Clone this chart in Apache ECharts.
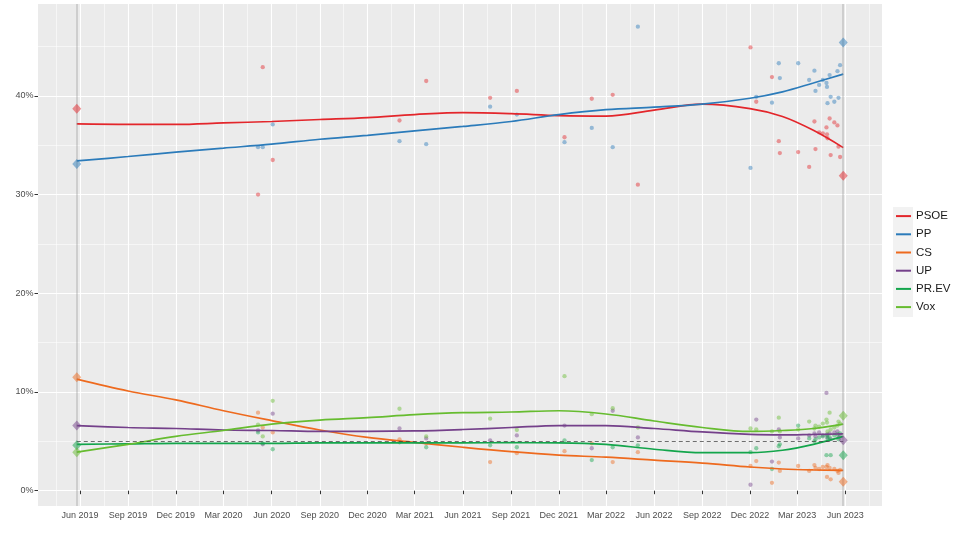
<!DOCTYPE html>
<html><head><meta charset="utf-8">
<script src="https://cdn.jsdelivr.net/npm/echarts@6/dist/echarts.min.js"></script>
<style>html,body{margin:0;padding:0;background:#fff}#c{width:960px;height:534px}</style>
</head><body><div id="c"></div>
<script>
const FONT = '"Liberation Sans", Arial, Helvetica, sans-serif';
const parties = ['PSOE','PP','CS','UP','PR.EV','Vox'];
const colors = ['#E3262B','#2B7BBA','#EE6A1E','#74408A','#13A54B','#66BC2F'];

const electionDates = ['2019-05-26','2023-05-28'];
const election2019 = [38.7, 33.1, 11.5, 6.6, 4.6, 3.9];
const election2023 = [31.9, 45.4, 0.9, 5.1, 3.6, 7.6];

const xTickDates = ['2019-06-01','2019-09-01','2019-12-01','2020-03-01','2020-06-01','2020-09-01','2020-12-01',
  '2021-03-01','2021-06-01','2021-09-01','2021-12-01','2022-03-01','2022-06-01','2022-09-01','2022-12-01',
  '2023-03-01','2023-06-01'];
const yTicks = [0, 10, 20, 30, 40];
const yMinorTicks = [5, 15, 25, 35, 45];
const threshold = 5;

const trendDates = ['2019-05-26','2019-09-01','2019-12-01','2020-03-01','2020-06-01','2020-09-01','2020-12-01',
  '2021-03-01','2021-06-01','2021-09-01','2021-12-01','2022-03-01','2022-06-01','2022-09-01','2022-12-01',
  '2023-02-01','2023-04-01','2023-05-28'];
const trendPSOE = [37.15,37.1,37.1,37.25,37.4,37.6,37.8,38.1,38.3,38.2,38.0,37.95,38.55,39.15,38.7,37.9,36.5,34.75];
const trendPP   = [33.4,33.85,34.3,34.7,35.1,35.6,36.0,36.45,36.9,37.4,38.1,38.6,38.85,39.15,39.75,40.4,41.3,42.2];
const trendCS   = [11.3,10.1,9.2,8.1,7.1,6.15,5.4,4.9,4.4,3.95,3.6,3.4,3.1,2.8,2.4,2.2,2.1,2.05];
const trendUP   = [6.6,6.4,6.3,6.15,6.1,6.0,6.0,6.05,6.2,6.4,6.6,6.6,6.3,5.95,5.7,5.65,5.7,5.75];
const trendPREV = [4.7,4.75,4.8,4.8,4.8,4.85,4.85,4.85,4.85,4.86,4.85,4.7,4.2,3.85,3.85,4.1,4.7,5.5];
const trendVox  = [3.9,4.7,5.5,6.1,6.75,7.15,7.4,7.7,7.9,7.97,8.1,7.77,7.06,6.4,6.0,6.1,6.3,6.75];

const pollDates = ['2020-05-06','2020-05-15','2020-06-03','2021-01-31','2021-03-23','2021-07-23','2021-09-12',
  '2021-12-12','2022-02-02','2022-03-14','2022-05-01','2022-12-02','2022-12-13','2023-01-12','2023-01-25',
  '2023-01-27','2023-03-03','2023-03-24','2023-04-03','2023-04-05','2023-04-12','2023-04-19','2023-04-26',
  '2023-04-27','2023-04-28','2023-05-02','2023-05-04','2023-05-11','2023-05-17','2023-05-19','2023-05-22'];
const pollPSOE = [30.0,42.9,33.5,37.5,41.5,39.8,40.5,35.8,39.7,40.1,31.0,44.9,39.4,41.9,35.4,34.2,34.3,32.8,37.4,34.6,36.3,36.2,36.8,36.1,35.7,37.7,34.0,37.3,37.0,34.85,33.8];
const pollPP   = [34.8,34.8,37.1,35.4,35.1,38.9,38.1,35.3,36.75,34.8,47.0,32.7,39.9,39.3,43.3,41.8,43.3,41.6,42.55,40.5,41.1,41.6,41.3,40.9,39.25,42.1,39.9,39.4,42.5,39.8,43.1];
const pollCS   = [7.9,6.4,5.9,5.2,4.8,2.9,3.8,4.0,4.8,2.9,3.9,2.5,3.0,0.8,2.85,2.0,2.5,2.0,2.6,2.3,2.2,2.4,2.4,1.4,2.6,2.3,1.15,2.2,2.0,1.8,2.1];
const pollUP   = [6.1,4.7,7.8,6.3,5.3,5.1,5.6,6.6,4.3,8.1,5.4,0.6,7.2,2.95,6.2,5.4,5.3,5.6,5.8,5.5,5.9,5.6,9.9,5.7,5.4,5.8,5.2,5.9,6.0,5.4,5.5];
const pollPREV = [5.9,4.8,4.2,4.9,4.4,4.6,4.4,5.1,3.1,4.4,4.6,3.9,4.3,2.2,4.5,4.7,6.6,5.3,5.0,5.2,5.4,5.5,3.6,5.6,5.3,5.4,3.6,5.6,5.7,5.2,5.8];
const pollVox  = [6.7,5.5,9.1,8.3,5.5,7.3,6.15,11.6,7.75,8.35,6.4,6.3,6.2,6.0,7.4,6.0,6.2,7.0,6.3,6.6,6.5,6.8,7.2,6.9,6.0,7.9,6.2,6.4,6.6,7.0,6.8];

const trends = [trendPSOE, trendPP, trendCS, trendUP, trendPREV, trendVox];
const polls = [pollPSOE, pollPP, pollCS, pollUP, pollPREV, pollVox];

function ts(s){ const p = s.split('-').map(Number); return Date.UTC(p[0], p[1]-1, p[2]); }
const MONTHS = ['Jan','Feb','Mar','Apr','May','Jun','Jul','Aug','Sep','Oct','Nov','Dec'];
const xTicks = xTickDates.map(ts);
const half = (xTicks[1] - xTicks[0]) / 2;
const xMinor = [xTicks[0] - half].concat(xTicks.map((t, i) => i < xTicks.length - 1 ? (t + xTicks[i+1]) / 2 : t + half));
const xMin = ts('2019-03-13'), xMax = ts('2023-08-10');
const yMin = -1.55, yMax = 49.3;

const series = [];
series.push({
  type: 'line', name: 'elections', data: [], silent: true, z: 1,
  markLine: { silent: true, symbol: 'none', label: {show: false},
    lineStyle: { color: 'rgba(140,140,140,0.3)', width: 2, type: 'solid' },
    data: electionDates.map(d => ({ xAxis: ts(d) })) }
});
parties.forEach((p, k) => {
  series.push({
    type: 'scatter', name: p + ' polls', z: 3,
    data: pollDates.map((d, i) => [ts(d), polls[k][i]]).filter(v => v[1] != null),
    symbolSize: 4.3, itemStyle: { color: colors[k], opacity: 0.45 }
  });
});
parties.forEach((p, k) => {
  series.push({
    type: 'line', name: p, z: 4, smooth: 0.35, showSymbol: false,
    data: trendDates.map((d, i) => [ts(d), trends[k][i]]),
    lineStyle: { color: colors[k], width: 1.7 }, itemStyle: { color: colors[k] }
  });
});
parties.forEach((p, k) => {
  series.push({
    type: 'scatter', name: p + ' result', z: 5, symbol: 'diamond', symbolSize: [9, 10],
    data: [[ts(electionDates[0]), election2019[k]], [ts(electionDates[1]), election2023[k]]],
    itemStyle: { color: colors[k], opacity: 0.5 }
  });
});
series.push({
  type: 'line', name: 'threshold', data: [], silent: true, z: 6,
  markLine: { silent: true, symbol: 'none', label: {show: false},
    lineStyle: { color: '#333333', width: 0.7, type: [4, 3] },
    data: [[{ coord: [ts(electionDates[0]), threshold] }, { coord: [ts(electionDates[1]), threshold] }]] }
});

const axisText = { fontFamily: FONT, fontSize: 9, color: '#4D4D4D' };
const option = {
  animation: false,
  backgroundColor: '#ffffff',
  textStyle: { fontFamily: FONT },
  grid: { left: 38, right: 78, top: 4, bottom: 28, show: true, backgroundColor: '#EBEBEB', borderWidth: 0 },
  graphic: [{ type: 'rect', left: 893, top: 207, z: 0, shape: { width: 20, height: 110 }, style: { fill: '#F2F2F2' } }],
  legend: {
    orient: 'vertical', left: 896, top: 207, padding: 0, itemGap: 0, itemTextGap: 5,
    itemWidth: 15, itemHeight: 2, icon: 'rect', data: parties, selectedMode: false,
    textStyle: { fontFamily: FONT, fontSize: 11.5, color: '#1A1A1A', lineHeight: 18.2 }
  },
  xAxis: [
    { type: 'value', min: xMin, max: xMax, scale: true,
      axisLine: { show: false },
      axisTick: { show: true, length: 3.5, lineStyle: { color: '#333333', width: 1 }, customValues: xTicks },
      axisLabel: Object.assign({ customValues: xTicks, margin: 5, hideOverlap: false,
        formatter: v => { const d = new Date(v); return MONTHS[d.getUTCMonth()] + ' ' + d.getUTCFullYear(); } }, axisText),
      splitLine: { show: true, lineStyle: { color: '#FFFFFF', width: 1.1 } } },
    { type: 'value', min: xMin, max: xMax, scale: true, show: true,
      axisLine: { show: false }, axisTick: { show: false, customValues: xMinor },
      axisLabel: { show: false, customValues: xMinor },
      splitLine: { show: true, lineStyle: { color: '#FFFFFF', width: 0.55 } } }
  ],
  yAxis: [
    { type: 'value', min: yMin, max: yMax,
      axisLine: { show: false },
      axisTick: { show: true, length: 3.5, lineStyle: { color: '#333333', width: 1 }, customValues: yTicks },
      axisLabel: Object.assign({ customValues: yTicks, margin: 4.5, formatter: v => v + '%' }, axisText),
      splitLine: { show: true, lineStyle: { color: '#FFFFFF', width: 1.1 } } },
    { type: 'value', min: yMin, max: yMax, position: 'left', show: true,
      axisLine: { show: false }, axisTick: { show: false, customValues: yMinorTicks },
      axisLabel: { show: false, customValues: yMinorTicks },
      splitLine: { show: true, lineStyle: { color: '#FFFFFF', width: 0.55 } } }
  ],
  series: series
};
const chart = echarts.init(document.getElementById('c'), null, { renderer: 'canvas' });
chart.setOption(option);
</script></body></html>
